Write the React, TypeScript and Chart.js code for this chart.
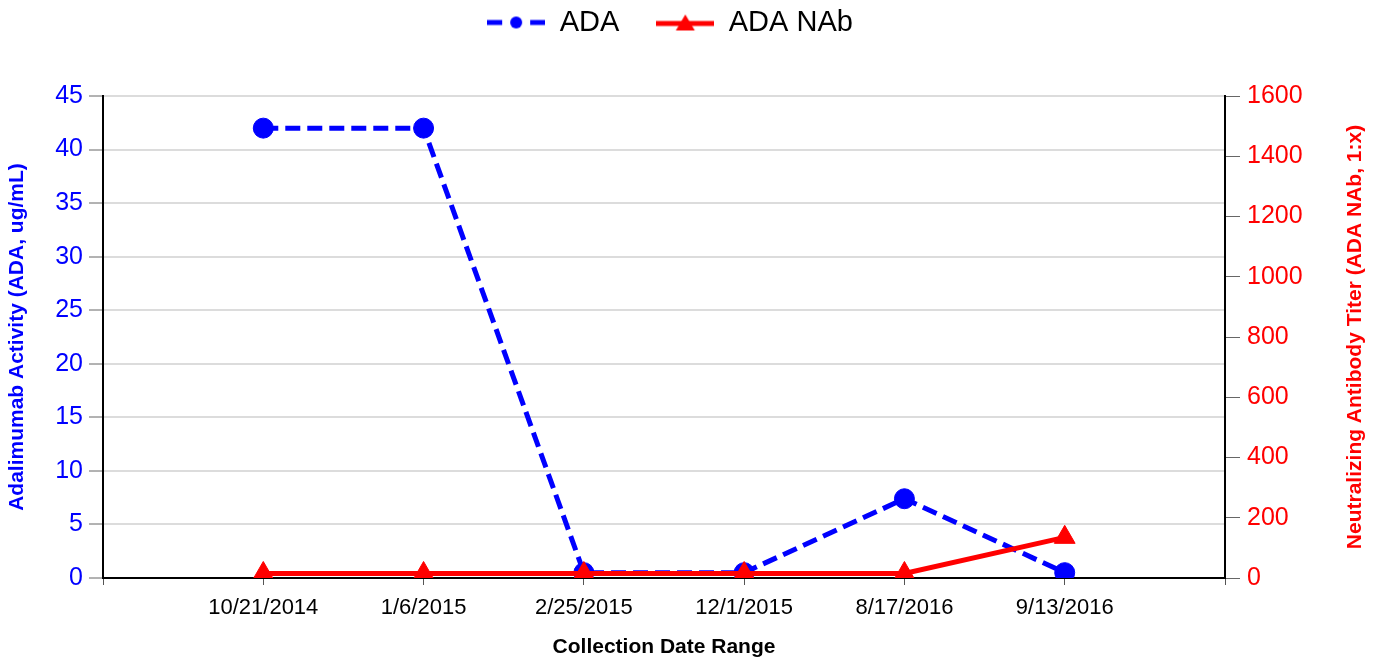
import React, { useEffect, useRef } from 'react';
import { Chart, registerables } from 'chart.js';

Chart.register(...registerables);

// ---- Data ----
const categories: string[] = ['', '10/21/2014', '1/6/2015', '2/25/2015', '12/1/2015', '8/17/2016', '9/13/2016', ''];
const adaValues: (number | null)[] = [null, 42, 42, 0.5, 0.5, 7.4, 0.5, null];
const nabValues: (number | null)[] = [null, 15, 15, 15, 15, 15, 135, null];
const leftTicks: number[] = [0, 5, 10, 15, 20, 25, 30, 35, 40, 45];
const rightTicks: number[] = [0, 200, 400, 600, 800, 1000, 1200, 1400, 1600];
const seriesNames: string[] = ['ADA', 'ADA NAb'];
const xTitle = 'Collection Date Range';
const leftTitle = 'Adalimumab Activity (ADA, ug/mL)';
const rightTitle = 'Neutralizing Antibody Titer (ADA NAb, 1:x)';

const BLUE = '#0000ff';
const RED = '#ff0000';
const FONT = "'Liberation Sans', Arial, sans-serif";

const LEGEND_DX = -20;
const LEGEND_DY = -29;

function makeAdaIcon(): HTMLCanvasElement {
  const c = document.createElement('canvas');
  c.width = 58;
  c.height = 24;
  const g = c.getContext('2d')!;
  g.strokeStyle = BLUE;
  g.lineWidth = 5;
  g.beginPath();
  g.moveTo(0, 12);
  g.lineTo(15, 12);
  g.moveTo(43, 12);
  g.lineTo(58, 12);
  g.stroke();
  g.fillStyle = BLUE;
  g.beginPath();
  g.arc(29, 12, 6, 0, Math.PI * 2);
  g.fill();
  return c;
}

function makeNabIcon(): HTMLCanvasElement {
  const c = document.createElement('canvas');
  c.width = 58;
  c.height = 24;
  const g = c.getContext('2d')!;
  g.strokeStyle = RED;
  g.lineWidth = 5;
  g.beginPath();
  g.moveTo(0, 13);
  g.lineTo(58, 13);
  g.stroke();
  g.fillStyle = RED;
  g.beginPath();
  g.moveTo(29, 4);
  g.lineTo(38.5, 20);
  g.lineTo(19.5, 20);
  g.closePath();
  g.fill();
  return c;
}

const legendShift = {
  id: 'legendShift',
  afterInit(chart: any) {
    const lg = chart.legend;
    if (!lg) return;
    const fit = lg.fit;
    lg.fit = function () {
      fit.call(this);
      this.height = 96;
    };
    const draw = lg.draw;
    lg.draw = function () {
      const ctx = this.ctx;
      ctx.save();
      ctx.translate(LEGEND_DX, LEGEND_DY);
      draw.call(this);
      ctx.restore();
    };
  },
};

// Right axis title, reading bottom-to-top like the reference
const rightTitlePlugin = {
  id: 'rightTitle',
  afterDraw(chart: any) {
    const s = chart.scales.y1;
    if (!s) return;
    const ctx = chart.ctx;
    ctx.save();
    ctx.translate(s.right - 25, (chart.chartArea.top + chart.chartArea.bottom) / 2);
    ctx.rotate(-Math.PI / 2);
    ctx.fillStyle = RED;
    ctx.font = `bold 21px ${FONT}`;
    ctx.textAlign = 'center';
    ctx.textBaseline = 'middle';
    ctx.fillText(rightTitle, 0, 0);
    ctx.restore();
  },
};

export default function App() {
  const ref = useRef<HTMLCanvasElement | null>(null);

  useEffect(() => {
    document.body.style.margin = '0';
    const canvas = ref.current;
    if (!canvas) return;
    const adaIcon = makeAdaIcon();
    const nabIcon = makeNabIcon();

    const chart = new Chart(canvas, {
      type: 'line',
      data: {
        labels: categories,
        datasets: [
          {
            label: seriesNames[0],
            data: adaValues,
            yAxisID: 'y',
            borderColor: BLUE,
            backgroundColor: BLUE,
            borderWidth: 5,
            borderDash: [15, 7],
            pointStyle: 'circle',
            pointRadius: 10,
            pointBorderWidth: 1,
            pointBackgroundColor: BLUE,
            pointBorderColor: BLUE,
            tension: 0,
            fill: false,
            order: 2,
          },
          {
            label: seriesNames[1],
            data: nabValues,
            yAxisID: 'y1',
            borderColor: RED,
            backgroundColor: RED,
            borderWidth: 5,
            pointStyle: 'triangle',
            pointRadius: 12,
            pointBorderWidth: 1,
            pointBackgroundColor: RED,
            pointBorderColor: RED,
            tension: 0,
            fill: false,
            order: 1,
          },
        ],
      },
      options: {
        responsive: false,
        animation: false,
        devicePixelRatio: 1,
        layout: { padding: 0 },
        plugins: {
          tooltip: { enabled: false },
          legend: {
            display: true,
            position: 'top',
            align: 'center',
            labels: {
              usePointStyle: true,
              pointStyleWidth: 58,
              boxHeight: 24,
              padding: 37,
              color: '#000',
              font: { family: FONT, size: 29 },
              generateLabels: () => [
                {
                  text: seriesNames[0],
                  pointStyle: adaIcon,
                  datasetIndex: 0,
                  fillStyle: BLUE,
                  strokeStyle: BLUE,
                  lineWidth: 0,
                  hidden: false,
                  fontColor: '#000',
                } as any,
                {
                  text: seriesNames[1],
                  pointStyle: nabIcon,
                  datasetIndex: 1,
                  fillStyle: RED,
                  strokeStyle: RED,
                  lineWidth: 0,
                  hidden: false,
                  fontColor: '#000',
                } as any,
              ],
            },
          },
        },
        scales: {
          x: {
            type: 'category',
            offset: false,
            grid: {
              display: true,
              drawOnChartArea: false,
              drawTicks: true,
              tickLength: 7,
              tickColor: '#555',
              tickWidth: 1,
            },
            border: { display: true, color: '#000', width: 2 },
            ticks: {
              color: '#000',
              font: { family: FONT, size: 22 },
              padding: 10,
              autoSkip: false,
              maxRotation: 0,
              minRotation: 0,
            },
            title: {
              display: true,
              text: xTitle,
              color: '#000',
              font: { family: FONT, size: 21, weight: 'bold' },
              padding: { top: 0, bottom: 1 },
            },
            afterFit: (s: any) => {
              s.height = 83;
            },
          },
          y: {
            type: 'linear',
            position: 'left',
            min: 0,
            max: 45,
            afterBuildTicks: (s: any) => {
              s.ticks = leftTicks.map((v) => ({ value: v }));
            },
            grid: {
              color: '#dcdcdc',
              lineWidth: 2,
              drawOnChartArea: true,
              drawTicks: true,
              tickLength: 14,
              tickColor: '#666',
              tickWidth: 1,
            },
            border: { display: true, color: '#000', width: 2 },
            ticks: {
              color: BLUE,
              font: { family: FONT, size: 25 },
              padding: 6,
              callback: (v: any) => String(v),
            },
            title: {
              display: true,
              text: leftTitle,
              color: BLUE,
              font: { family: FONT, size: 21, weight: 'bold' },
              padding: { top: 5, bottom: 0 },
            },
            afterFit: (s: any) => {
              s.width = 103;
            },
          },
          y1: {
            type: 'linear',
            position: 'right',
            min: 0,
            max: 1600,
            afterBuildTicks: (s: any) => {
              s.ticks = rightTicks.map((v) => ({ value: v }));
            },
            grid: {
              drawOnChartArea: false,
              drawTicks: true,
              tickLength: 15,
              tickColor: '#666',
              tickWidth: 1,
            },
            border: { display: true, color: '#000', width: 2 },
            ticks: {
              color: RED,
              font: { family: FONT, size: 25 },
              padding: 7,
              callback: (v: any) => String(v),
            },
            title: { display: false },
            afterFit: (s: any) => {
              s.width = 155;
            },
          },
        },
      } as any,
      plugins: [legendShift, rightTitlePlugin],
    });

    return () => {
      chart.destroy();
    };
  }, []);

  return (
    <div style={{ position: 'absolute', left: 0, top: 0, width: 1380, height: 661, background: '#fff' }}>
      <canvas ref={ref} width={1380} height={661} style={{ display: 'block' }} />
    </div>
  );
}
